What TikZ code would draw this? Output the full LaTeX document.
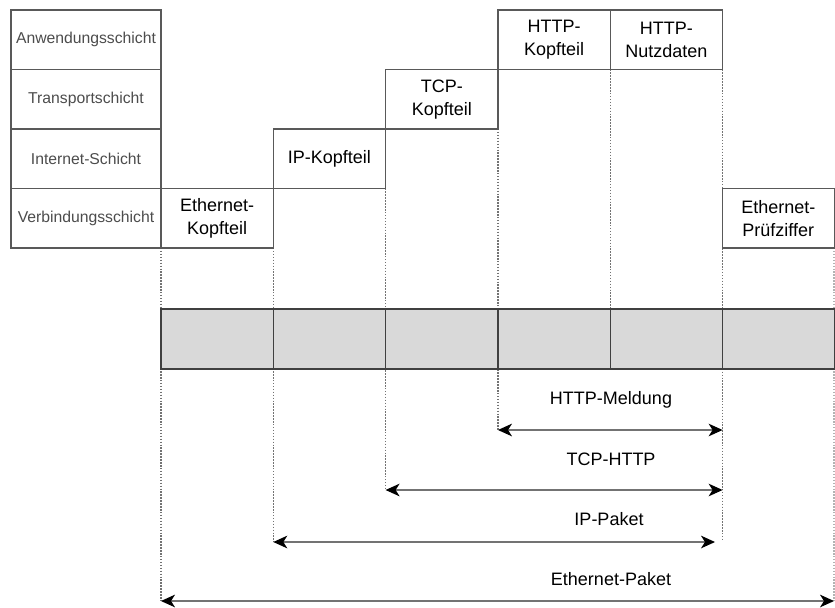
\documentclass[tikz,border=0pt]{standalone}
\usepackage{fontspec}
\setmainfont{Liberation Sans}
\usetikzlibrary{arrows.meta}

\begin{document}
\begin{tikzpicture}[
    x=0.75pt,
    y=-0.75pt,
    line width=0.8pt,
    cell/.style={draw=black!65, minimum width=84.25pt, minimum height=44.6pt, inner sep=0pt,
        align=center, font=\fontsize{13.5}{17.5}\selectfont},
    layer/.style={cell, minimum width=112.5pt, text=black!70, font=\fontsize{11.8}{14}\selectfont},
    guide/.style={draw=black!55, line width=0.9pt, dash pattern=on 1.1pt off 1.1pt},
    span/.style={draw=black!55, line width=0.9pt,
        {Stealth[length=10.5pt, width=9.5pt, inset=3pt, black]}-{Stealth[length=10.5pt, width=9.5pt, inset=3pt, black]}},
    spanlabel/.style={font=\fontsize{13.5}{15}\selectfont}
]
\useasboundingbox (0,0) rectangle (835,607);

% layer column
\node[layer] (app)   at (86,39.75)  {Anwendungsschicht};
\node[layer] (trans) at (86,99.25)  {Transportschicht};
\node[layer] (inet)  at (86,158.75) {Internet-Schicht};
\node[layer] (link)  at (86,218.25) {Verbindungsschicht};

% guide lines down to the spans
\coordinate (ethL) at (161,601);
\coordinate (ethR) at (834,601);
\coordinate (ipL)  at (273.3,542);
\coordinate (ipR)  at (715,542);
\coordinate (tcpL) at (385.6,490);
\coordinate (tcpR) at (722.6,490);
\coordinate (msgL) at (498,430);
\coordinate (msgR) at (722.6,430);

\draw[guide] (161,248) -- (ethL);
\draw[guide] (273.3,248) -- (273.3,542);
\draw[guide] (385.6,188.5) -- (tcpL);
\draw[guide] (498,129) -- (msgL);
\draw[guide] (610.3,69.5) -- (610.3,309);
\draw[guide] (722.6,69.5) -- (722.6,540);
\draw[guide, draw=black!30] (834,248) -- (834,601);

% headers, one step per layer
\node[cell, fill=white] (ethhead)  at (217.15,218.25) {Ethernet-\\Kopfteil};
\node[cell, fill=white] (iphead)   at (329.45,158.75) {IP-Kopfteil};
\node[cell, fill=white] (tcphead)  at (441.8,99.25)   {TCP-\\Kopfteil};
\node[cell, fill=white] (httphead) at (554.15,39.75)  {HTTP-\\Kopfteil};
\node[cell, fill=white] (httpdata) at (666.45,39.75)  {HTTP-\\Nutzdaten};
\node[cell, fill=white] (ethcrc)   at (778.3,218.25)  {Ethernet-\\Prüfziffer};

% frame on the wire
\draw[black!75, fill=black!15] (161,309) rectangle (834.5,369);
\foreach \x in {273.3,385.6,498,610.3,722.6} {
    \draw[black!75] (\x,309) -- (\x,369);
}

% spans
\draw[span] (msgL) -- (msgR);
\draw[span] (tcpL) -- (tcpR);
\draw[span] (ipL) -- (ipR);
\draw[span] (ethL) -- (ethR);
\node[spanlabel] (msglabel) at (611,400) {HTTP-Meldung};
\node[spanlabel] (tcplabel) at (611,459) {TCP-HTTP};
\node[spanlabel] (iplabel)  at (609,519) {IP-Paket};
\node[spanlabel] (ethlabel) at (611,579) {Ethernet-Paket};
\end{tikzpicture}
\end{document}
